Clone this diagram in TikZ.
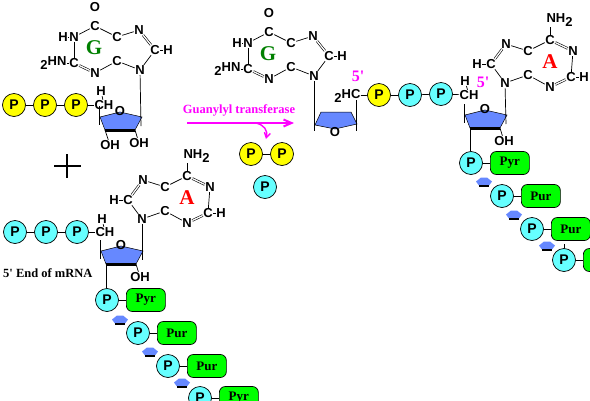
\documentclass[tikz,border=0pt]{standalone}
\usepackage{fontspec}
\setmainfont{Liberation Sans}
\newfontfamily\labelfont{Liberation Serif}
\usepackage{xcolor}
\usetikzlibrary{arrows.meta}
\definecolor{capcyan}{RGB}{102, 255, 255}
\definecolor{capyellow}{RGB}{255, 255, 0}
\definecolor{capgreen}{RGB}{0, 255, 0}
\definecolor{capblue}{RGB}{102, 136, 255}
\definecolor{capmagenta}{RGB}{255, 0, 255}
\definecolor{capbase}{RGB}{0, 128, 0}
\tikzset{
  atom/.style={inner sep=0.4pt, font=\bfseries\fontsize{13}{13}\selectfont},
  bnd/.style={line width=0.7pt},
  dbl/.style={line width=0.6pt, double, double distance=1.3pt},
  lbl/.style={inner sep=0pt, font=\labelfont\bfseries\fontsize{12.5}{12.5}\selectfont},
  baselbl/.style={inner sep=0pt, font=\labelfont\bfseries\fontsize{21}{21}\selectfont},
  phos/.style={circle, draw, line width=0.7pt, minimum size=23pt, inner sep=0pt,
               font=\bfseries\fontsize{14}{14}\selectfont},
  pcyan/.style={phos, fill=capcyan},
  pyellow/.style={phos, fill=capyellow},
  basebox/.style={rectangle, rounded corners=6pt, draw, line width=0.7pt, fill=capgreen,
                  anchor=west, minimum width=39pt, minimum height=23pt, inner sep=0pt,
                  font=\labelfont\bfseries\fontsize{13}{13}\selectfont},
  guanine/.pic={
    \foreach \id/\txt/\px/\py in {o/O/95/7, c6/C/95/26, n1/N/74/37, h1/H/63/37, c5/C/117/37,
        c4/C/117/61, n7/N/139/30, c8/C/155/50, h8/H/168/50, n9/N/140/70, n3/N/95/73, c2/C/74/63}
      \node[atom] (-\id) at (\px,\py) {\txt};
    \node[atom, anchor=east] (-nh) at (67,63) {\lower4pt\hbox{2}HN};
    \node[baselbl, text=capbase] (-name) at (94,48) {G};
    \foreach \a/\b in {c6/n1, c6/c5, n1/h1, n1/c2, c2/nh, c5/n7, c4/n9, c4/n3, c8/n9, c8/h8}
      \draw[bnd] (-\a) -- (-\b);
    \foreach \a/\b in {o/c6, c5/c4, n7/c8, c2/n3}
      \draw[dbl] (-\a) -- (-\b);
  },
  adenine/.pic={
    \foreach \id/\txt/\px/\py in {c6/C/187/176, n1/N/210/187, c2/C/208/213, h2/H/221/213,
        n3/N/187/223, c4/C/165/211, c5/C/165/187, n7/N/143/180, c8/C/128/200, h8/H/114/200, n9/N/142/219}
      \node[atom] (-\id) at (\px,\py) {\txt};
    \node[atom, anchor=west] (-nh) at (183,156) {NH\lower4pt\hbox{2}};
    \coordinate (-nhb) at (187,163);
    \node[baselbl, text=red] (-name) at (187,198) {A};
    \foreach \a/\b in {c6/c5, c5/n7, c4/n9, c4/n3, c2/n1, c8/n9, c8/h8, c2/h2, nhb/c6}
      \draw[bnd] (-\a) -- (-\b);
    \foreach \a/\b in {c5/c4, n3/c2, n1/c6, n7/c8}
      \draw[dbl] (-\a) -- (-\b);
  },
  ribose/.pic={
    \coordinate (-tl) at (-21,-16);
    \coordinate (-bl) at (-15,8);
    \coordinate (-br) at (15,8);
    \coordinate (-tr) at (21,4);
    \filldraw[fill=capblue, line width=0.5pt] (-20,-5) -- (0,-10) -- (22,-5) -- (15,8) -- (-15,8) -- cycle;
    \draw[line width=3pt] (-bl) -- (-br);
    \draw[bnd] (-tl) -- (-21,3);
    \node[atom] (-o) at (0,-11) {O};
    \node[atom] (-oh) at (19,21) {OH};
    \draw[bnd] (-br) -- (-oh);
  },
  minisugar/.pic={
    \fill[capblue] (-8,-0.5) -- (-3,-4.5) -- (3,-4.5) -- (8,-0.5) -- (5,3.5) -- (-5,3.5) -- cycle;
    \draw[line width=1.5pt] (-5,4) -- (5,4);
  },
}
\begin{document}
\begin{tikzpicture}[x=1pt, y=-1pt]
  \clip (0,0) rectangle (590,400);
  \fill[white] (0,0) rectangle (590,400);

  \pic (gua) at (0,0) {guanine};
  \pic (sugg) at (120,122) {ribose};
  \draw[bnd] (gua-n9) -- (sugg-tr);
  \node[atom] (sugg-oh2) at (110,145) {OH};
  \draw[bnd] (sugg-bl) -- (sugg-oh2);
  \node[atom] (cha) at (104,105) {CH};
  \node[atom] (cha-h) at (101,91) {H};
  \draw[bnd] (cha-h) -- (cha);
  \foreach \i/\px in {1/14, 2/45, 3/76}
    \node[pyellow] (pa\i) at (\px,105) {P};
  \draw[bnd] (pa1) -- (pa2);
  \draw[bnd] (pa2) -- (pa3);
  \draw[bnd] (pa3) -- (cha);

  \coordinate (plush) at (54,166);
  \coordinate (plusv) at (67,154);
  \draw[line width=1.3pt] (plush) -- ++(27,0);
  \draw[line width=1.3pt] (plusv) -- ++(0,24);

  % mRNA end
  \pic (ade) at (0,0) {adenine};
  \pic (suga) at (121,256) {ribose};
  \draw[bnd] (ade-n9) -- (suga-tr);
  \node[atom] (chb) at (105,232) {CH};
  \node[atom] (chb-h) at (102,219) {H};
  \draw[bnd] (chb-h) -- (chb);
  \foreach \i/\px in {1/15, 2/46, 3/77}
    \node[pcyan] (pb\i) at (\px,232) {P};
  \draw[bnd] (pb1) -- (pb2);
  \draw[bnd] (pb2) -- (pb3);
  \draw[bnd] (pb3) -- (chb);
  \node[lbl, anchor=west] (endlbl) at (3,273) {5' End of mRNA};
  \foreach \i/\px/\py/\txt in {1/107/300/Pyr, 2/138/333/Pur, 3/168/366/Pur, 4/200/398/Pyr} {
    \node[pcyan] (pc\i) at (\px,\py) {P};
    \node[basebox] (bc\i) at (\px+19,\py) {\txt};
    \draw[bnd] (pc\i) -- (bc\i);
  }
  \draw[bnd] (suga-bl) -- (pc1.north -| suga-bl);
  \pic at (120,320) {minisugar};
  \pic at (150,352) {minisugar};
  \pic at (182,383) {minisugar};

  % enzyme
  \node[lbl, text=capmagenta] (enz) at (239,110) {Guanylyl transferase};
  \coordinate (arra) at (187,123);
  \coordinate (arrb) at (294,123);
  \coordinate (arrc) at (256,123);
  \coordinate (arrd) at (266,139);
  \draw[-{Straight Barb[length=8pt,width=7pt]}, capmagenta, line width=2pt] (arra) -- (arrb);
  \draw[-{Straight Barb[length=5pt,width=6pt]}, capmagenta, line width=1.4pt]
    (arrc) .. controls (264,125) and (268,130) .. (arrd);
  \node[pyellow] (pd1) at (251,154) {P};
  \node[pyellow] (pd2) at (282,154) {P};
  \draw[bnd] (pd1) -- (pd2);
  \node[pcyan] (pd3) at (265,187) {P};

  % capped end
  \pic (gub) at (174,6) {guanine};
  \coordinate (sugb-a) at (315,125);
  \coordinate (sugb-b) at (357,124);
  \filldraw[fill=capblue, line width=0.5pt] (sugb-a) -- (335,129) -- (sugb-b) -- (351,112) -- (321,112) -- cycle;
  \node[atom] (sugb-o) at (335,132) {O};
  \draw[bnd] (gub-n9) -- (314,131);
  \draw[bnd] (356,100) -- (356,131);
  \node[atom, anchor=east] (chc) at (361,96) {\lower4pt\hbox{2}HC};
  \node[lbl, text=capmagenta, font=\labelfont\bfseries\fontsize{16}{16}\selectfont] (fivea) at (358,76) {5'};
  \node[pyellow] (pe1) at (379,95) {P};
  \node[pcyan] (pe2) at (410,95) {P};
  \node[pcyan] (pe3) at (441,94) {P};
  \draw[bnd] (chc) -- (pe1);
  \draw[bnd] (pe1) -- (pe2);
  \draw[bnd] (pe2) -- (pe3);
  \node[atom] (chd) at (469,95) {CH};
  \node[atom] (chd-h) at (465,81) {H};
  \draw[bnd] (chd-h) -- (chd);
  \draw[bnd] (pe3) -- (chd);

  \pic (adb) at (363,-136) {adenine};
  \pic (sugc) at (485,120) {ribose};
  \draw[bnd] (adb-n9) -- (sugc-tr);
  \node[lbl, text=capmagenta, font=\labelfont\bfseries\fontsize{16}{16}\selectfont] (fiveb) at (483,82) {5'};
  \foreach \i/\px/\py/\txt in {1/471/163/Pyr, 2/502/196/Pur, 3/532/229/Pur, 4/564/260/Pyr} {
    \node[pcyan] (pf\i) at (\px,\py) {P};
    \node[basebox] (bf\i) at (\px+19,\py) {\txt};
    \draw[bnd] (pf\i) -- (bf\i);
  }
  \draw[bnd] (sugc-bl) -- (pf1.north -| sugc-bl);
  \coordinate (tail) at (564,244);
  \draw[bnd] (tail) -- (pf4);
  \pic at (484,182) {minisugar};
  \pic at (514,215) {minisugar};
  \pic at (547,246) {minisugar};
\end{tikzpicture}
\end{document}
